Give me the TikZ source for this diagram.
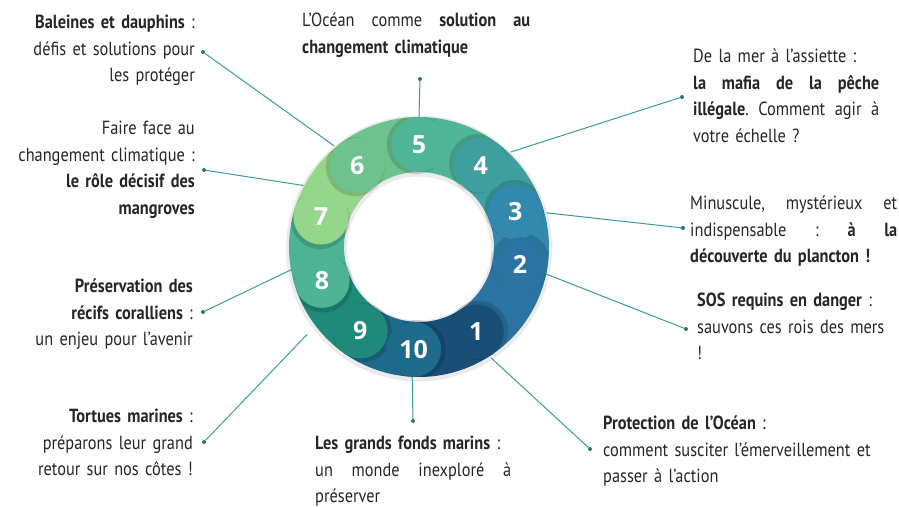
\documentclass[tikz,border=0pt]{standalone}
\usepackage{fontspec}
\setmainfont{PT Sans}[FakeStretch=0.86]
\newfontfamily\numfont{Open Sans}
\definecolor{ink}{HTML}{262626}
\definecolor{linkteal}{HTML}{3A9E96}
\definecolor{dotteal}{HTML}{25786F}
\definecolor{segone}{HTML}{194E76}
\definecolor{segtwo}{HTML}{2B73A0}
\definecolor{segthree}{HTML}{3389AD}
\definecolor{segfour}{HTML}{3F9E9E}
\definecolor{segfive}{HTML}{4FB596}
\definecolor{segsix}{HTML}{6DC28E}
\definecolor{segseven}{HTML}{94D78A}
\definecolor{segeight}{HTML}{4EB395}
\definecolor{segnine}{HTML}{1F8A7A}
\definecolor{segten}{HTML}{1E6A8A}
\begin{document}
\begin{tikzpicture}[x=1pt,y=1pt,
    link/.style={draw=linkteal, line width=1pt},
    dot/.style={circle, fill=dotteal, inner sep=0pt, minimum size=4pt},
    lbl/.style={inner sep=0pt, text=ink, font=\fontsize{19}{26.5}\selectfont},
    num/.style={text=white, font=\numfont\bfseries\fontsize{25}{25}\selectfont}]
    \useasboundingbox (0,0) rectangle (899,506);
    % the ring
    \begin{scope}[shift={(419,259)}]
        \fill[black, opacity=.08, even odd rule] (0,-1.5) circle[radius=133] (0,-1.5) circle[radius=72];
        \fill[segfive] (53:75) arc[start angle=53, end angle=90, radius=75] -- (90:130) arc[start angle=90, end angle=53, radius=130] -- cycle;
        \fill[segfour] (20:75) arc[start angle=20, end angle=53, radius=75] -- (53:130) arc[start angle=53, end angle=20, radius=130] -- cycle;
        \fill[segthree] (-10:75) arc[start angle=-10, end angle=20, radius=75] -- (20:130) arc[start angle=20, end angle=-10, radius=130] -- cycle;
        \fill[segtwo] (-56:75) arc[start angle=-56, end angle=-10, radius=75] -- (-10:130) arc[start angle=-10, end angle=-56, radius=130] -- cycle;
        \fill[segone] (-93:75) arc[start angle=-93, end angle=-56, radius=75] -- (-56:130) arc[start angle=-56, end angle=-93, radius=130] -- cycle;
        \fill[segten] (-125:75) arc[start angle=-125, end angle=-93, radius=75] -- (-93:130) arc[start angle=-93, end angle=-125, radius=130] -- cycle;
        \fill[segnine] (-161:75) arc[start angle=-161, end angle=-125, radius=75] -- (-125:130) arc[start angle=-125, end angle=-161, radius=130] -- cycle;
        \fill[segeight] (-197:75) arc[start angle=-197, end angle=-161, radius=75] -- (-161:130) arc[start angle=-161, end angle=-197, radius=130] -- cycle;
        \fill[segseven] (-233:75) arc[start angle=-233, end angle=-197, radius=75] -- (-197:130) arc[start angle=-197, end angle=-233, radius=130] -- cycle;
        \fill[segsix] (-270:75) arc[start angle=-270, end angle=-233, radius=75] -- (-233:130) arc[start angle=-233, end angle=-270, radius=130] -- cycle;
        % shadows under the heads
        \begin{scope}
            \clip (0,0) circle[radius=130];
            \fill[black, opacity=.14] (91.5:102.5) circle[radius=29.5];
            \fill[black, opacity=.14] (54.5:102.5) circle[radius=29.5];
            \fill[black, opacity=.14] (21.5:102.5) circle[radius=29.5];
            \fill[black, opacity=.14] (-8.5:102.5) circle[radius=29.5];
            \fill[black, opacity=.14] (-54.5:102.5) circle[radius=29.5];
            \fill[black, opacity=.14] (-91.5:102.5) circle[radius=29.5];
            \fill[black, opacity=.14] (-123.5:102.5) circle[radius=29.5];
            \fill[black, opacity=.14] (-159.5:102.5) circle[radius=29.5];
            \fill[black, opacity=.14] (164.5:102.5) circle[radius=29.5];
            \fill[black, opacity=.14] (128.5:102.5) circle[radius=29.5];
        \end{scope}
        % heads
        \fill[segfive] (90:102.5) circle[radius=27.5];
        \fill[segfour] (53:102.5) circle[radius=27.5];
        \fill[segthree] (20:102.5) circle[radius=27.5];
        \fill[segtwo] (-10:102.5) circle[radius=27.5];
        \fill[segone] (-56:102.5) circle[radius=27.5];
        \fill[segten] (-93:102.5) circle[radius=27.5];
        \fill[segnine] (-125:102.5) circle[radius=27.5];
        \fill[segeight] (-161:102.5) circle[radius=27.5];
        \fill[segseven] (163:102.5) circle[radius=27.5];
        \fill[segsix] (127:102.5) circle[radius=27.5];
        \node[num] (n5) at (90:102.5) {5};
        \node[num] (n4) at (53:102.5) {4};
        \node[num] (n3) at (20:102.5) {3};
        \node[num] (n2) at (-10:102.5) {2};
        \node[num] (n1) at (-56:102.5) {1};
        \node[num] (n10) at (-93:102.5) {10};
        \node[num] (n9) at (-125:102.5) {9};
        \node[num] (n8) at (-161:102.5) {8};
        \node[num] (n7) at (163:102.5) {7};
        \node[num] (n6) at (127:102.5) {6};
        % where the links leave the ring
        \coordinate (rwhales) at (130:132);
        \coordinate (rmangroves) at (152:131);
        \coordinate (rcorals) at (190:129);
        \coordinate (rturtles) at (218:142);
        \coordinate (rdeep) at (267:130);
        \coordinate (rprotect) at (303:132);
        \coordinate (rsharks) at (348:130);
        \coordinate (rplankton) at (15:132);
        \coordinate (rfishing) at (46:132);
        \coordinate (rclimate) at (90:130);
    \end{scope}
    % texts
    \node[lbl, anchor=north east, text width=200pt, align=right] (whales) at (195,491)
        {\textbf{Baleines et dauphins} :\\ défis et solutions pour\\ les protéger};
    \node[lbl, anchor=north east, text width=200pt, align=right] (mangroves) at (195,385)
        {Faire face au\\ changement climatique :\\ \textbf{le rôle décisif des}\\ \textbf{mangroves}};
    \node[lbl, anchor=north east, text width=200pt, align=right] (corals) at (193,227)
        {\textbf{Préservation des}\\ \textbf{récifs coralliens} :\\ un enjeu pour l’avenir};
    \node[lbl, anchor=north east, text width=200pt, align=right] (turtles) at (193,97)
        {\textbf{Tortues marines} :\\ préparons leur grand\\ retour sur nos côtes !};
    \node[lbl, anchor=north west, text width=228pt, align=left] (climate) at (302,493)
        {L’Océan\hfill comme\hfill \textbf{solution}\hfill \textbf{au}\\ \textbf{changement climatique}};
    \node[lbl, anchor=north west, text width=186pt, align=left] (fishing) at (693,457)
        {De la mer à l’assiette :\\ \textbf{la}\hfill \textbf{mafia}\hfill \textbf{de}\hfill \textbf{la}\hfill \textbf{pêche}\\ \textbf{illégale}.\hfill Comment\hfill agir\hfill à\\ votre échelle ?};
    \node[lbl, anchor=north west, text width=207pt, align=left] (plankton) at (690,310)
        {Minuscule,\hfill mystérieux\hfill et\\ indispensable\hfill :\hfill \textbf{à}\hfill \textbf{la}\\ \textbf{découverte du plancton !}};
    \node[lbl, anchor=north west, text width=200pt, align=left] (sharks) at (697,213)
        {\textbf{SOS requins en danger} :\\ sauvons ces rois des mers\\ !};
    \node[lbl, anchor=north west, text width=290pt, align=left] (protect) at (603,90)
        {\textbf{Protection de l’Océan} :\\ comment susciter l’émerveillement et\\ passer à l’action};
    \node[lbl, anchor=north west, text width=196pt, align=left] (deep) at (315,70)
        {\textbf{Les grands fonds marins} :\\ un\hfill monde\hfill inexploré\hfill à\\ préserver};
    % dots beside the texts
    \node[dot] (dwhales) at (203,454) {};
    \node[dot] (dmangroves) at (204,336) {};
    \node[dot] (dcorals) at (203,194) {};
    \node[dot] (dturtles) at (204,64) {};
    \node[dot] (ddeep) at (413,85) {};
    \node[dot] (dprotect) at (590,57) {};
    \node[dot] (dsharks) at (686,177) {};
    \node[dot] (dplankton) at (683,278) {};
    \node[dot] (dfishing) at (682,409) {};
    \node[dot] (dclimate) at (420,427) {};
    % links
    \draw[link] (rwhales) -- (dwhales);
    \draw[link] (rmangroves) -- (dmangroves);
    \draw[link] (rcorals) -- (dcorals);
    \draw[link] (rturtles) -- (dturtles);
    \draw[link] (rdeep) -- (ddeep);
    \draw[link] (rprotect) -- (dprotect);
    \draw[link] (rsharks) -- (dsharks);
    \draw[link] (rplankton) -- (dplankton);
    \draw[link] (rfishing) -- (dfishing);
    \draw[link] (rclimate) -- (dclimate);
\end{tikzpicture}
\end{document}
